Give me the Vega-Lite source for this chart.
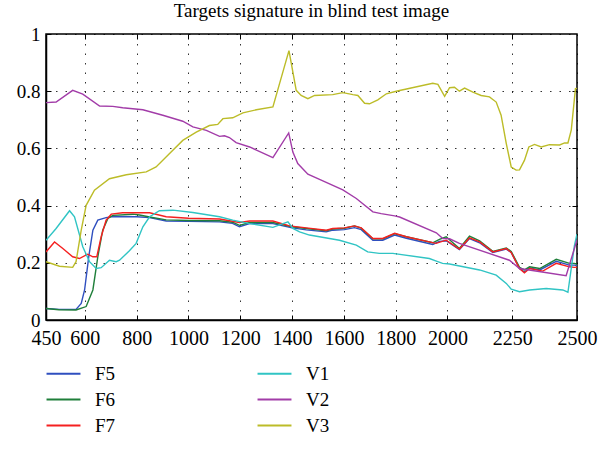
{
  "$schema": "https://vega.github.io/schema/vega-lite/v6.json",
  "autosize": "none",
  "width": 531,
  "height": 286,
  "padding": {"left": 46, "top": 34, "right": 30, "bottom": 136},
  "background": "white",
  "config": {
    "font": "Liberation Serif",
    "view": {"stroke": "black", "strokeWidth": 1.5},
    "axis": {"labelFont": "Liberation Serif", "labelColor": "black", "domainColor": "black", "tickColor": "black", "titleFont": "Liberation Serif"},
    "legend": {"labelFont": "Liberation Serif", "labelFontSize": 19, "labelColor": "black"}
  },
  "title": {"text": "Targets signature in blind test image", "font": "Liberation Serif", "fontSize": 19, "fontWeight": "normal", "color": "black", "offset": 4},
  "data": {"values": [
    {"s":"F5","w":450,"v":0.040},{"s":"F5","w":500,"v":0.037},{"s":"F5","w":566,"v":0.037},{"s":"F5","w":586,"v":0.058},{"s":"F5","w":599,"v":0.105},{"s":"F5","w":615,"v":0.221},{"s":"F5","w":631,"v":0.314},{"s":"F5","w":650,"v":0.349},{"s":"F5","w":682,"v":0.358},{"s":"F5","w":708,"v":0.362},{"s":"F5","w":800,"v":0.361},{"s":"F5","w":850,"v":0.358},{"s":"F5","w":914,"v":0.346},{"s":"F5","w":1000,"v":0.345},{"s":"F5","w":1120,"v":0.343},{"s":"F5","w":1170,"v":0.338},{"s":"F5","w":1197,"v":0.326},{"s":"F5","w":1236,"v":0.337},{"s":"F5","w":1326,"v":0.337},{"s":"F5","w":1400,"v":0.322},{"s":"F5","w":1455,"v":0.315},{"s":"F5","w":1532,"v":0.308},{"s":"F5","w":1557,"v":0.314},{"s":"F5","w":1602,"v":0.316},{"s":"F5","w":1641,"v":0.323},{"s":"F5","w":1667,"v":0.316},{"s":"F5","w":1712,"v":0.279},{"s":"F5","w":1750,"v":0.279},{"s":"F5","w":1796,"v":0.297},{"s":"F5","w":1841,"v":0.286},{"s":"F5","w":1943,"v":0.264},{"s":"F5","w":1969,"v":0.275},{"s":"F5","w":1995,"v":0.277},{"s":"F5","w":2046,"v":0.246},{"s":"F5","w":2085,"v":0.285},{"s":"F5","w":2124,"v":0.270},{"s":"F5","w":2175,"v":0.236},{"s":"F5","w":2227,"v":0.248},{"s":"F5","w":2246,"v":0.236},{"s":"F5","w":2278,"v":0.180},{"s":"F5","w":2297,"v":0.168},{"s":"F5","w":2317,"v":0.182},{"s":"F5","w":2356,"v":0.175},{"s":"F5","w":2420,"v":0.205},{"s":"F5","w":2471,"v":0.192},{"s":"F5","w":2490,"v":0.192},{"s":"F5","w":2500,"v":0.19},
    {"s":"F6","w":450,"v":0.040},{"s":"F6","w":500,"v":0.036},{"s":"F6","w":566,"v":0.035},{"s":"F6","w":605,"v":0.047},{"s":"F6","w":631,"v":0.105},{"s":"F6","w":650,"v":0.221},{"s":"F6","w":669,"v":0.314},{"s":"F6","w":689,"v":0.355},{"s":"F6","w":708,"v":0.366},{"s":"F6","w":785,"v":0.370},{"s":"F6","w":811,"v":0.367},{"s":"F6","w":850,"v":0.360},{"s":"F6","w":914,"v":0.350},{"s":"F6","w":1000,"v":0.348},{"s":"F6","w":1120,"v":0.347},{"s":"F6","w":1170,"v":0.342},{"s":"F6","w":1197,"v":0.331},{"s":"F6","w":1236,"v":0.341},{"s":"F6","w":1326,"v":0.341},{"s":"F6","w":1400,"v":0.326},{"s":"F6","w":1455,"v":0.320},{"s":"F6","w":1532,"v":0.312},{"s":"F6","w":1557,"v":0.318},{"s":"F6","w":1602,"v":0.321},{"s":"F6","w":1641,"v":0.329},{"s":"F6","w":1667,"v":0.321},{"s":"F6","w":1712,"v":0.284},{"s":"F6","w":1750,"v":0.284},{"s":"F6","w":1796,"v":0.302},{"s":"F6","w":1841,"v":0.291},{"s":"F6","w":1943,"v":0.270},{"s":"F6","w":1969,"v":0.282},{"s":"F6","w":1995,"v":0.291},{"s":"F6","w":2046,"v":0.250},{"s":"F6","w":2085,"v":0.293},{"s":"F6","w":2124,"v":0.277},{"s":"F6","w":2175,"v":0.240},{"s":"F6","w":2227,"v":0.252},{"s":"F6","w":2246,"v":0.240},{"s":"F6","w":2278,"v":0.184},{"s":"F6","w":2297,"v":0.175},{"s":"F6","w":2317,"v":0.186},{"s":"F6","w":2356,"v":0.180},{"s":"F6","w":2420,"v":0.212},{"s":"F6","w":2471,"v":0.198},{"s":"F6","w":2490,"v":0.198},{"s":"F6","w":2500,"v":0.195},
    {"s":"F7","w":450,"v":0.238},{"s":"F7","w":483,"v":0.273},{"s":"F7","w":515,"v":0.250},{"s":"F7","w":553,"v":0.221},{"s":"F7","w":579,"v":0.215},{"s":"F7","w":611,"v":0.230},{"s":"F7","w":631,"v":0.221},{"s":"F7","w":646,"v":0.221},{"s":"F7","w":663,"v":0.291},{"s":"F7","w":682,"v":0.349},{"s":"F7","w":702,"v":0.370},{"s":"F7","w":746,"v":0.375},{"s":"F7","w":850,"v":0.375},{"s":"F7","w":914,"v":0.361},{"s":"F7","w":1000,"v":0.356},{"s":"F7","w":1120,"v":0.353},{"s":"F7","w":1197,"v":0.341},{"s":"F7","w":1236,"v":0.346},{"s":"F7","w":1326,"v":0.346},{"s":"F7","w":1390,"v":0.329},{"s":"F7","w":1455,"v":0.322},{"s":"F7","w":1532,"v":0.314},{"s":"F7","w":1557,"v":0.320},{"s":"F7","w":1602,"v":0.322},{"s":"F7","w":1641,"v":0.329},{"s":"F7","w":1667,"v":0.322},{"s":"F7","w":1712,"v":0.285},{"s":"F7","w":1750,"v":0.285},{"s":"F7","w":1796,"v":0.303},{"s":"F7","w":1841,"v":0.291},{"s":"F7","w":1930,"v":0.273},{"s":"F7","w":1956,"v":0.268},{"s":"F7","w":1995,"v":0.279},{"s":"F7","w":2046,"v":0.248},{"s":"F7","w":2085,"v":0.287},{"s":"F7","w":2124,"v":0.273},{"s":"F7","w":2175,"v":0.238},{"s":"F7","w":2227,"v":0.250},{"s":"F7","w":2246,"v":0.236},{"s":"F7","w":2278,"v":0.180},{"s":"F7","w":2297,"v":0.165},{"s":"F7","w":2317,"v":0.180},{"s":"F7","w":2368,"v":0.171},{"s":"F7","w":2420,"v":0.198},{"s":"F7","w":2471,"v":0.186},{"s":"F7","w":2490,"v":0.184},{"s":"F7","w":2500,"v":0.185},
    {"s":"V1","w":450,"v":0.279},{"s":"V1","w":489,"v":0.320},{"s":"V1","w":541,"v":0.382},{"s":"V1","w":560,"v":0.361},{"s":"V1","w":592,"v":0.256},{"s":"V1","w":618,"v":0.204},{"s":"V1","w":644,"v":0.180},{"s":"V1","w":663,"v":0.183},{"s":"V1","w":695,"v":0.209},{"s":"V1","w":721,"v":0.204},{"s":"V1","w":734,"v":0.209},{"s":"V1","w":772,"v":0.242},{"s":"V1","w":798,"v":0.268},{"s":"V1","w":824,"v":0.326},{"s":"V1","w":850,"v":0.361},{"s":"V1","w":888,"v":0.382},{"s":"V1","w":940,"v":0.384},{"s":"V1","w":1017,"v":0.376},{"s":"V1","w":1120,"v":0.361},{"s":"V1","w":1171,"v":0.349},{"s":"V1","w":1236,"v":0.337},{"s":"V1","w":1326,"v":0.324},{"s":"V1","w":1384,"v":0.343},{"s":"V1","w":1403,"v":0.320},{"s":"V1","w":1429,"v":0.308},{"s":"V1","w":1467,"v":0.297},{"s":"V1","w":1583,"v":0.279},{"s":"V1","w":1648,"v":0.262},{"s":"V1","w":1692,"v":0.238},{"s":"V1","w":1737,"v":0.233},{"s":"V1","w":1789,"v":0.233},{"s":"V1","w":1930,"v":0.215},{"s":"V1","w":1957,"v":0.206},{"s":"V1","w":1981,"v":0.198},{"s":"V1","w":2008,"v":0.196},{"s":"V1","w":2124,"v":0.175},{"s":"V1","w":2188,"v":0.157},{"s":"V1","w":2227,"v":0.128},{"s":"V1","w":2246,"v":0.108},{"s":"V1","w":2278,"v":0.099},{"s":"V1","w":2317,"v":0.105},{"s":"V1","w":2381,"v":0.110},{"s":"V1","w":2445,"v":0.105},{"s":"V1","w":2465,"v":0.097},{"s":"V1","w":2490,"v":0.260},{"s":"V1","w":2500,"v":0.300},
    {"s":"V2","w":450,"v":0.760},{"s":"V2","w":489,"v":0.762},{"s":"V2","w":553,"v":0.803},{"s":"V2","w":592,"v":0.790},{"s":"V2","w":657,"v":0.748},{"s":"V2","w":708,"v":0.747},{"s":"V2","w":746,"v":0.742},{"s":"V2","w":824,"v":0.735},{"s":"V2","w":901,"v":0.716},{"s":"V2","w":978,"v":0.695},{"s":"V2","w":1017,"v":0.675},{"s":"V2","w":1069,"v":0.663},{"s":"V2","w":1120,"v":0.642},{"s":"V2","w":1139,"v":0.644},{"s":"V2","w":1158,"v":0.638},{"s":"V2","w":1184,"v":0.620},{"s":"V2","w":1236,"v":0.605},{"s":"V2","w":1326,"v":0.568},{"s":"V2","w":1387,"v":0.654},{"s":"V2","w":1403,"v":0.587},{"s":"V2","w":1422,"v":0.547},{"s":"V2","w":1461,"v":0.510},{"s":"V2","w":1506,"v":0.492},{"s":"V2","w":1596,"v":0.455},{"s":"V2","w":1648,"v":0.425},{"s":"V2","w":1712,"v":0.378},{"s":"V2","w":1744,"v":0.372},{"s":"V2","w":1796,"v":0.364},{"s":"V2","w":1815,"v":0.360},{"s":"V2","w":1957,"v":0.305},{"s":"V2","w":1982,"v":0.285},{"s":"V2","w":2008,"v":0.284},{"s":"V2","w":2046,"v":0.268},{"s":"V2","w":2239,"v":0.209},{"s":"V2","w":2278,"v":0.180},{"s":"V2","w":2458,"v":0.155},{"s":"V2","w":2490,"v":0.250},{"s":"V2","w":2500,"v":0.280},
    {"s":"V3","w":450,"v":0.204},{"s":"V3","w":502,"v":0.188},{"s":"V3","w":553,"v":0.184},{"s":"V3","w":566,"v":0.204},{"s":"V3","w":586,"v":0.314},{"s":"V3","w":605,"v":0.401},{"s":"V3","w":637,"v":0.454},{"s":"V3","w":695,"v":0.494},{"s":"V3","w":760,"v":0.508},{"s":"V3","w":837,"v":0.518},{"s":"V3","w":875,"v":0.535},{"s":"V3","w":927,"v":0.582},{"s":"V3","w":978,"v":0.628},{"s":"V3","w":1030,"v":0.657},{"s":"V3","w":1081,"v":0.680},{"s":"V3","w":1113,"v":0.684},{"s":"V3","w":1133,"v":0.704},{"s":"V3","w":1171,"v":0.707},{"s":"V3","w":1210,"v":0.724},{"s":"V3","w":1262,"v":0.735},{"s":"V3","w":1326,"v":0.745},{"s":"V3","w":1388,"v":0.942},{"s":"V3","w":1416,"v":0.803},{"s":"V3","w":1435,"v":0.785},{"s":"V3","w":1461,"v":0.774},{"s":"V3","w":1487,"v":0.785},{"s":"V3","w":1557,"v":0.788},{"s":"V3","w":1596,"v":0.795},{"s":"V3","w":1635,"v":0.788},{"s":"V3","w":1654,"v":0.785},{"s":"V3","w":1680,"v":0.758},{"s":"V3","w":1699,"v":0.756},{"s":"V3","w":1731,"v":0.770},{"s":"V3","w":1764,"v":0.791},{"s":"V3","w":1802,"v":0.800},{"s":"V3","w":1943,"v":0.828},{"s":"V3","w":1963,"v":0.824},{"s":"V3","w":1989,"v":0.782},{"s":"V3","w":2008,"v":0.812},{"s":"V3","w":2027,"v":0.814},{"s":"V3","w":2046,"v":0.800},{"s":"V3","w":2066,"v":0.811},{"s":"V3","w":2098,"v":0.797},{"s":"V3","w":2130,"v":0.785},{"s":"V3","w":2162,"v":0.780},{"s":"V3","w":2188,"v":0.762},{"s":"V3","w":2207,"v":0.716},{"s":"V3","w":2227,"v":0.617},{"s":"V3","w":2246,"v":0.535},{"s":"V3","w":2265,"v":0.524},{"s":"V3","w":2278,"v":0.525},{"s":"V3","w":2297,"v":0.558},{"s":"V3","w":2314,"v":0.605},{"s":"V3","w":2336,"v":0.614},{"s":"V3","w":2362,"v":0.605},{"s":"V3","w":2394,"v":0.613},{"s":"V3","w":2433,"v":0.612},{"s":"V3","w":2452,"v":0.619},{"s":"V3","w":2465,"v":0.619},{"s":"V3","w":2478,"v":0.665},{"s":"V3","w":2494,"v":0.809},{"s":"V3","w":2500,"v":0.810}
  ]},
  "resolve": {"axis": {"x": "independent", "y": "independent"}},
  "layer": [
    {
      "mark": {"type": "line", "strokeWidth": 1.4, "clip": true},
      "encoding": {
        "x": {"field": "w", "type": "quantitative", "title": null,
          "scale": {"domain": [450, 2500], "nice": false, "zero": false},
          "axis": {"values": [450,600,800,1000,1200,1400,1600,1800,2000,2250,2500], "format": "d", "tickSize": -5, "labelPadding": 13, "labelFontSize": 20, "labelFlush": false, "labelOverlap": false,
            "grid": true, "gridColor": "black", "gridDash": [1.5, 8], "gridOpacity": 0.8, "domainWidth": 1.5}},
        "y": {"field": "v", "type": "quantitative", "title": null,
          "scale": {"domain": [0, 1], "nice": false},
          "axis": {"values": [0,0.2,0.4,0.6,0.8,1], "format": "~g", "tickSize": -5, "labelPadding": 11, "labelFontSize": 19, "labelFlush": false,
            "grid": true, "gridColor": "black", "gridDash": [1.5, 8], "gridOpacity": 0.8, "domainWidth": 1.5}},
        "color": {"field": "s", "type": "nominal",
          "scale": {"domain": ["F5","F6","F7","V1","V2","V3"], "range": ["#2f4fbf","#1f7f3a","#f52020","#30c4c4","#a23ca8","#bcbc28"]},
          "legend": {"title": null, "orient": "none", "legendX": 2, "legendY": 324, "columns": 2, "symbolType": "M-1.2,0H1.2", "symbolSize": 800, "symbolStrokeWidth": 2, "labelOffset": 16, "columnPadding": 137, "rowPadding": 0}}
      }
    },
    {
      "mark": {"type": "line", "opacity": 0},
      "encoding": {
        "x": {"field": "w", "type": "quantitative",
          "axis": {"orient": "top", "values": [600,800,1000,1200,1400,1600,1800,2000,2250], "labels": false, "tickSize": -5, "domain": false, "grid": false, "title": null}},
        "y": {"field": "v", "type": "quantitative",
          "axis": {"orient": "right", "values": [0.2,0.4,0.6,0.8], "labels": false, "tickSize": -5, "domain": false, "grid": false, "title": null}},
        "detail": {"field": "s"}
      }
    }
  ]
}
